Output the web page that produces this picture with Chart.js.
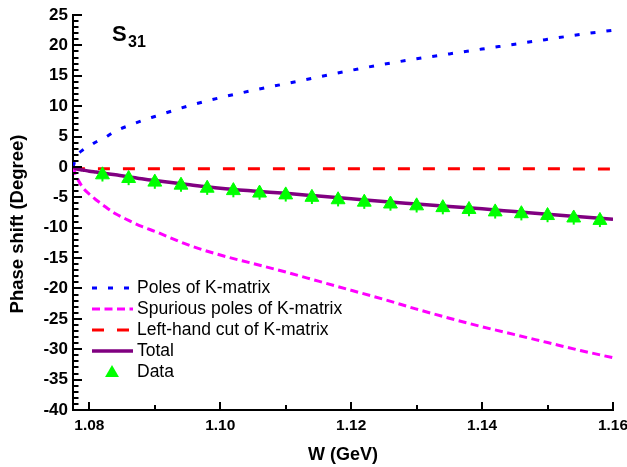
<!DOCTYPE html>
<html>
<head>
<meta charset="utf-8">
<script src="https://cdn.jsdelivr.net/npm/chart.js@4.4.1/dist/chart.umd.min.js"></script>
<style>
  html, body { margin: 0; padding: 0; background: #fff; }
  #wrap { width: 627px; height: 467px; }
</style>
</head>
<body>
<div id="wrap"><canvas id="phase" width="627" height="467"></canvas></div>
<script>
// S31 phase shift near threshold, K-matrix pieces vs data
const W_MIN = 1.0775;
const W_MAX = 1.16;
const xTickLabels = [1.08, 1.10, 1.12, 1.14, 1.16];
const xMinorTicks = [1.09, 1.11, 1.13, 1.15];
const yTickLabels = [-40, -35, -30, -25, -20, -15, -10, -5, 0, 5, 10, 15, 20, 25];

const wModel = [1.0775, 1.078, 1.079, 1.080, 1.081, 1.082, 1.084, 1.086, 1.088, 1.090,
  1.095, 1.100, 1.105, 1.110, 1.115, 1.120, 1.125, 1.130, 1.135, 1.140, 1.145, 1.150, 1.155, 1.160];
const polesK = [0, 1.6, 2.8, 3.4, 4.1, 4.6, 5.9, 6.8, 7.6, 8.3,
  10.0, 11.4, 12.6, 13.7, 14.8, 15.9, 16.9, 17.8, 18.6, 19.4, 20.2, 21.0, 21.8, 22.5];
const spuriousK = [0, -1.5, -3.4, -4.5, -5.4, -6.2, -7.7, -8.8, -9.8, -10.6,
  -12.8, -14.5, -15.9, -17.3, -18.8, -20.3, -21.8, -23.4, -24.9, -26.3, -27.6, -28.9, -30.2, -31.4];
const leftCutK = [-0.1, -0.2, -0.3, -0.3, -0.3, -0.3, -0.3, -0.3, -0.3, -0.3,
  -0.3, -0.3, -0.3, -0.3, -0.3, -0.3, -0.3, -0.3, -0.3, -0.3, -0.3, -0.3, -0.35, -0.35];
const totalK = [0, -0.3, -0.5, -0.7, -0.85, -1.0, -1.3, -1.6, -1.95, -2.25,
  -2.9, -3.5, -3.95, -4.35, -4.8, -5.25, -5.7, -6.1, -6.5, -6.9, -7.35, -7.8, -8.2, -8.6];

const wData = [1.082, 1.086, 1.090, 1.094, 1.098, 1.102, 1.106, 1.110, 1.114, 1.118,
  1.122, 1.126, 1.130, 1.134, 1.138, 1.142, 1.146, 1.150, 1.154, 1.158];
const phaseData = [-1.3, -1.9, -2.5, -3.0, -3.5, -3.9, -4.3, -4.6, -5.0, -5.4,
  -5.8, -6.1, -6.4, -6.7, -7.0, -7.4, -7.7, -8.0, -8.4, -8.8];
const phaseErr = [1.1, 1.1, 1.1, 1.1, 1.1, 1.1, 1.1, 1.1, 1.1, 1.1,
  1.1, 1.1, 1.1, 1.1, 1.1, 1.1, 1.1, 1.1, 1.1, 1.1];

const FONT = '"Liberation Sans", Arial, sans-serif';

const pts = (xs, ys) => xs.map((x, i) => ({ x: x, y: ys[i] }));

const datasets = [
  { label: 'Poles of K-matrix', data: pts(wModel, polesK), borderColor: '#0000ff',
    borderWidth: 3, borderDash: [5, 11], order: 4 },
  { label: 'Spurious poles of K-matrix', data: pts(wModel, spuriousK), borderColor: '#ff00ff',
    borderWidth: 3, borderDash: [8, 4.5], order: 3 },
  { label: 'Left-hand cut of K-matrix', data: pts(wModel, leftCutK), borderColor: '#ff0000',
    borderWidth: 3, borderDash: [12, 13], order: 2 },
  { label: 'Total', data: pts(wModel, totalK), borderColor: '#800080',
    borderWidth: 3.5, order: 1 },
  { label: 'Data', data: pts(wData, phaseData), showLine: false, pointStyle: 'triangle',
    pointRadius: 8, backgroundColor: '#00ff00', borderColor: '#00ff00', borderWidth: 1, order: 0 }
];
datasets.forEach(d => {
  if (d.showLine !== false) {
    d.pointRadius = 0;
    d.fill = false;
    d.cubicInterpolationMode = 'monotone';
  }
});

const decor = {
  id: 'decor',
  // error bars sit under the triangles
  beforeDatasetDraw(chart, args) {
    if (chart.data.datasets[args.index].label !== 'Data') return;
    const { ctx, scales: { x, y } } = chart;
    ctx.save();
    ctx.strokeStyle = '#00ff00';
    ctx.lineWidth = 2;
    wData.forEach((w, i) => {
      const px = x.getPixelForValue(w);
      ctx.beginPath();
      ctx.moveTo(px, y.getPixelForValue(phaseData[i] + phaseErr[i]));
      ctx.lineTo(px, y.getPixelForValue(phaseData[i] - phaseErr[i]));
      ctx.stroke();
    });
    ctx.restore();
  },
  afterDraw(chart) {
    const { ctx, chartArea: a, scales: { x, y } } = chart;
    ctx.save();
    ctx.strokeStyle = '#000';
    ctx.lineWidth = 2;
    ctx.setLineDash([]);
    // inward ticks on both axes
    xTickLabels.forEach(v => {
      const px = Math.round(x.getPixelForValue(v));
      ctx.beginPath(); ctx.moveTo(px, a.bottom); ctx.lineTo(px, a.bottom - 8); ctx.stroke();
    });
    xMinorTicks.forEach(v => {
      const px = Math.round(x.getPixelForValue(v));
      ctx.beginPath(); ctx.moveTo(px, a.bottom); ctx.lineTo(px, a.bottom - 5); ctx.stroke();
    });
    for (let v = -40; v <= 25; v++) {
      const py = Math.round(y.getPixelForValue(v));
      const len = v % 5 === 0 ? 9 : 5.5;
      ctx.beginPath(); ctx.moveTo(a.left, py); ctx.lineTo(a.left + len, py); ctx.stroke();
    }

    // y-axis title
    ctx.fillStyle = '#000';
    ctx.save();
    ctx.translate(18, 224);
    ctx.rotate(-Math.PI / 2);
    ctx.font = 'bold 18.5px ' + FONT;
    ctx.textAlign = 'center';
    ctx.textBaseline = 'middle';
    ctx.fillText('Phase shift (Degree)', 0, 0);
    ctx.restore();

    // panel label S31
    ctx.textAlign = 'left';
    ctx.textBaseline = 'alphabetic';
    ctx.font = 'bold 22px ' + FONT;
    ctx.fillText('S', 112, 41);
    ctx.font = 'bold 16px ' + FONT;
    ctx.fillText('31', 128, 47);

    // legend
    const rows = [288, 309, 330, 351, 372];
    ctx.font = '17.5px ' + FONT;
    ctx.textBaseline = 'middle';
    chart.data.datasets.forEach((d, i) => {
      const ry = rows[i];
      if (d.showLine === false) {
        ctx.save();
        ctx.fillStyle = d.backgroundColor;
        ctx.beginPath();
        const r = 8, cx = 112, cy = ry + 1;
        ctx.moveTo(cx, cy - r);
        ctx.lineTo(cx + r * 0.866, cy + r / 2);
        ctx.lineTo(cx - r * 0.866, cy + r / 2);
        ctx.closePath();
        ctx.fill();
        ctx.restore();
      } else {
        ctx.save();
        ctx.strokeStyle = d.borderColor;
        ctx.lineWidth = d.borderWidth;
        ctx.setLineDash(d.borderDash || []);
        ctx.beginPath(); ctx.moveTo(92, ry); ctx.lineTo(133, ry); ctx.stroke();
        ctx.restore();
      }
      ctx.fillStyle = '#000';
      ctx.fillText(d.label, 137, ry);
    });
    ctx.restore();
  }
};

new Chart(document.getElementById('phase'), {
  type: 'line',
  data: { datasets: datasets },
  plugins: [decor],
  options: {
    responsive: false,
    animation: false,
    devicePixelRatio: 1,
    layout: { padding: { left: 0, right: 14, top: 15, bottom: 0 } },
    plugins: { legend: { display: false }, tooltip: { enabled: false } },
    scales: {
      x: {
        type: 'linear',
        min: W_MIN,
        max: W_MAX,
        grid: { display: false, drawTicks: false },
        border: { display: true, color: '#000', width: 2 },
        ticks: {
          color: '#000',
          font: { family: FONT, size: 15.5, weight: 'bold' },
          padding: 6,
          maxRotation: 0,
          callback: v => v.toFixed(2)
        },
        afterBuildTicks: s => { s.ticks = xTickLabels.map(v => ({ value: v })); },
        afterFit: s => { s.height = 57; s.paddingLeft = 0; s.paddingRight = 0; },
        title: {
          display: true,
          text: 'W (GeV)',
          color: '#000',
          font: { family: FONT, size: 18, weight: 'bold' },
          padding: { top: 0, bottom: 1 }
        }
      },
      y: {
        type: 'linear',
        min: -40,
        max: 25,
        grid: { display: false, drawTicks: false },
        border: { display: true, color: '#000', width: 2 },
        ticks: {
          color: '#000',
          font: { family: FONT, size: 17, weight: 'bold' },
          padding: 5,
          callback: v => String(v)
        },
        afterBuildTicks: s => { s.ticks = yTickLabels.map(v => ({ value: v })); },
        afterFit: s => { s.width = 73; s.paddingTop = 0; s.paddingBottom = 0; }
      }
    }
  }
});
</script>
</body>
</html>
